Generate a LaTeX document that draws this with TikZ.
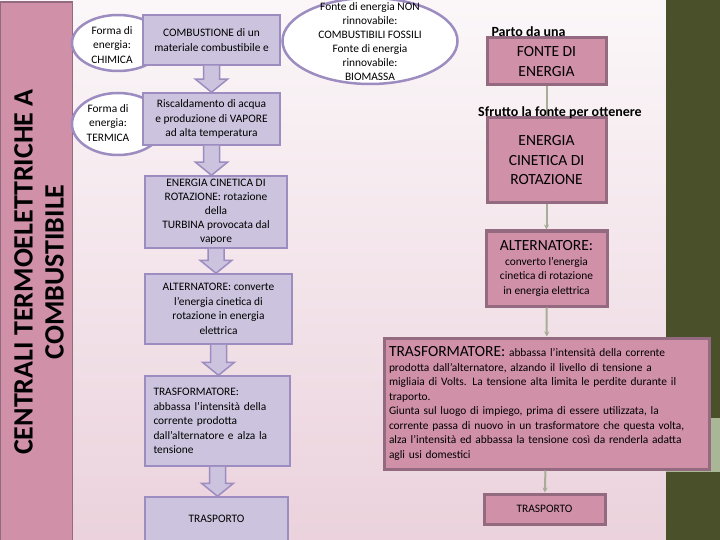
\documentclass[tikz,border=0pt]{standalone}
\usepackage{fontspec}
\setmainfont{Carlito}
\usetikzlibrary{shapes.geometric,arrows.meta,calc}

\definecolor{sfondoalto}{HTML}{FBF7F9}
\definecolor{sfondobasso}{HTML}{EBD2DC}
\definecolor{rosa}{HTML}{D090A8}
\definecolor{rosabordo}{HTML}{946A80}
\definecolor{lilla}{HTML}{CCC4DE}
\definecolor{lillabordo}{HTML}{9C8CC0}
\definecolor{oliva}{HTML}{4A5029}
\definecolor{olivachiaro}{HTML}{A9B797}
\definecolor{grigioverde}{HTML}{A8AD97}

\begin{document}
\begin{tikzpicture}[x=1pt,y=-1pt,
    lilla box/.style={draw=lillabordo, fill=lilla, line width=1.5pt, inner sep=0pt, align=center, font=\fontsize{11.4}{14.5}\selectfont},
    rosa box/.style={draw=rosabordo, fill=rosa, line width=3pt, inner sep=0pt, align=center, font=\fontsize{15.5}{19.5}\selectfont},
    forma/.style={ellipse, draw=lillabordo, fill=white, line width=2.5pt, inner sep=0pt},
    freccia/.style={draw=lillabordo, fill=lilla, line width=1.5pt, line join=miter},
    legame/.style={draw=grigioverde, line width=2pt, -{Stealth[length=5pt,width=5pt]}},
    piccolo/.style={font=\fontsize{11.4}{14.5}\selectfont, align=center},
    grassetto/.style={font=\bfseries\fontsize{14}{17}\selectfont}]

    % Background
    \useasboundingbox (0,0) rectangle (720,540);
    \shade[top color=sfondoalto, bottom color=sfondobasso] (0,0) rectangle (666,540);
    \fill[oliva] (666,0) rectangle (720,540);
    \fill[olivachiaro] (666,418) rectangle (720,472);

    % Title bar
    \node[draw=rosabordo, fill=rosa, line width=1.5pt, minimum width=72pt, minimum height=545pt] (barra) at (36.5,274.5) {};
    \node[rotate=90, align=center, font=\bfseries\fontsize{28}{31}\selectfont] (titolo) at (39,272) {CENTRALI TERMOELETTRICHE A\\COMBUSTIBILE};

    % Ellipses
    \node[forma, minimum width=92pt, minimum height=56pt] (chimica) at (118,43) {};
    \node[piccolo] (chimicatesto) at (112,45) {Forma di\\energia:\\CHIMICA};
    \node[forma, minimum width=92pt, minimum height=62pt] (termica) at (118,124) {};
    \node[piccolo] (termicatesto) at (108,123) {Forma di\\energia:\\TERMICA};
    \node[forma, minimum width=175pt, minimum height=86pt] (fonti) at (370,41) {};
    \node[piccolo, font=\fontsize{11.4}{14}\selectfont] (fontitesto) at (370,42) {Fonte di energia NON\\rinnovabile:\\COMBUSTIBILI FOSSILI\\Fonte di energia\\rinnovabile:\\BIOMASSA};

    % Left chain
    \node[lilla box, minimum width=137pt, minimum height=50pt] (b1) at (211.5,40) {COMBUSTIONE di un\\materiale combustibile e};
    \node[lilla box, minimum width=137pt, minimum height=52pt] (b2) at (211.5,119) {Riscaldamento di acqua\\e produzione di VAPORE\\ad alta temperatura};
    \node[lilla box, minimum width=142pt, minimum height=72pt, font=\fontsize{11.4}{13.9}\selectfont] (b3) at (216,212) {ENERGIA CINETICA DI\\ROTAZIONE: rotazione\\della\\TURBINA provocata dal\\vapore};
    \node[lilla box, minimum width=147pt, minimum height=70pt] (b4) at (218.5,309) {ALTERNATORE: converte\\l'energia cinetica di\\rotazione in energia\\elettrica};
    \node[lilla box, minimum width=145pt, minimum height=90pt, text width=128pt, align=left] (b5) at (217.5,421) {TRASFORMATORE:\\abbassa l'intensità della\\corrente prodotta\\dall'alternatore e alza la\\tensione};
    \node[lilla box, minimum width=143pt, minimum height=44pt] (b6) at (216.5,519) {TRASPORTO};

    % Block arrows
    \foreach \a/\b in {b1/b2, b2/b3, b3/b4, b4/b5, b5/b6}
      \filldraw[freccia] ($(\a.south)+(-8,0)$) -- ($(\a.south |- \b.north)+(-8,-13)$) -- ($(\a.south |- \b.north)+(-16,-13)$) -- (\a.south |- \b.north) -- ($(\a.south |- \b.north)+(16,-13)$) -- ($(\a.south |- \b.north)+(8,-13)$) -- ($(\a.south)+(8,0)$);

    % Right chain
    \node[grassetto, anchor=west] (parto) at (488,32) {Parto da una};
    \node[rosa box, minimum width=119pt, minimum height=47pt] (r1) at (546.5,61.5) {FONTE DI\\ENERGIA};
    \node[rosa box, minimum width=119pt, minimum height=85pt] (r2) at (546.5,160.5) {ENERGIA\\CINETICA DI\\ROTAZIONE};
    \node[rosa box, minimum width=121pt, minimum height=75pt, font=\fontsize{11.4}{14.5}\selectfont] (r3) at (546.5,268.5) {{\fontsize{15.5}{19.5}\selectfont ALTERNATORE:}\\converto l'energia\\cinetica di rotazione\\in energia elettrica};
    \node[rosa box, minimum width=325pt, minimum height=131pt, text width=316pt, align=left, font=\fontsize{11.4}{14.5}\selectfont] (r4) at (547,403.5) {{\fontsize{15.5}{19.5}\selectfont TRASFORMATORE:} abbassa l'intensità della corrente\\prodotta dall'alternatore, alzando il livello di tensione a\\migliaia di Volts. La tensione alta limita le perdite durante il\\traporto.\\Giunta sul luogo di impiego, prima di essere utilizzata, la\\corrente passa di nuovo in un trasformatore che questa volta,\\alza l'intensità ed abbassa la tensione così da renderla adatta\\agli usi domestici};
    \node[rosa box, minimum width=121pt, minimum height=30pt, font=\fontsize{11.4}{14.5}\selectfont] (r5) at (544.5,509) {TRASPORTO};

    % Connectors
    \draw[legame] (r1) -- (r2);
    \draw[legame] (r2) -- (r3);
    \draw[legame] (r3) -- (r4);
    \draw[legame] (r4) -- (r5);

    % Labels
    \node[grassetto] (sfrutto) at (560,113) {Sfrutto la fonte per ottenere};
\end{tikzpicture}
\end{document}
